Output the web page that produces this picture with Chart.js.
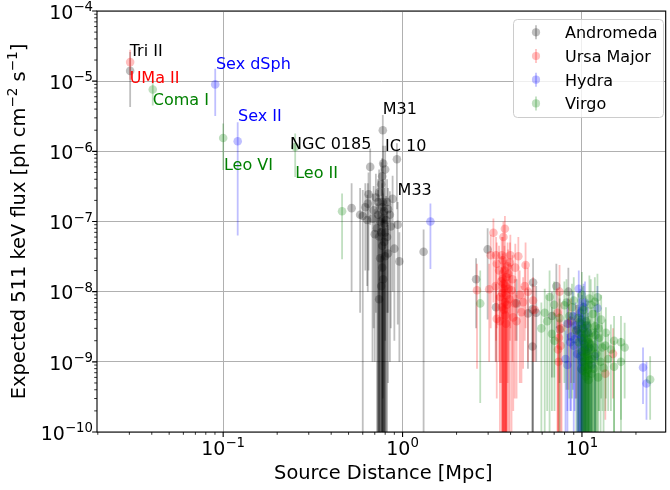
<!DOCTYPE html>
<html>
<head>
<meta charset="utf-8">
<script src="https://cdn.jsdelivr.net/npm/chart.js@4.4.0/dist/chart.umd.min.js"></script>
<style>
  body { margin: 0; background: #fff; }
  canvas { display: block; }
</style>
</head>
<body>
<canvas id="myChart" width="670" height="490"></canvas>
<script>

// each source: [distance Mpc, flux, lower end of bar, upper end of bar]
var andromeda = [
  [0.0303, 1.4e-5, 4.3e-6, 2.6e-5],
  [0.776, 2.0e-6, 3e-10, 3.3e-6],
  [0.93, 7.7e-7, 1.5e-7, 1.3e-6],
  [0.66, 6.0e-7, 9e-8, 1.1e-6],
  [0.80, 5.5e-7, 2e-9, 1.2e-6],
  [0.78, 6.7e-7, 5e-8, 1.2e-6],
  [0.77, 4.4e-7, 1e-11, 8e-7],
  [0.76, 3.4e-7, 2e-8, 7e-7],
  [0.74, 2.6e-7, 1e-11, 5.5e-7],
  [0.646, 2.45e-7, 2e-8, 5e-7],
  [0.71, 2.2e-7, 5e-9, 4.8e-7],
  [0.88, 2.1e-7, 1e-8, 4.5e-7],
  [0.776, 1.9e-7, 1e-11, 4e-7],
  [0.82, 1.9e-7, 5e-9, 4e-7],
  [0.73, 1.9e-7, 1e-11, 4e-7],
  [0.64, 1.8e-7, 1e-8, 3.5e-7],
  [0.62, 1.6e-7, 2e-8, 3.5e-7],
  [0.77, 1.6e-7, 1e-11, 3.5e-7],
  [0.52, 1.55e-7, 1e-8, 3.5e-7],
  [0.83, 1.5e-7, 5e-9, 3e-7],
  [0.69, 1.45e-7, 3e-9, 3.2e-7],
  [0.79, 1.4e-7, 1e-11, 3e-7],
  [0.73, 1.25e-7, 1e-11, 2.8e-7],
  [0.85, 1.25e-7, 1e-9, 2.7e-7],
  [0.58, 1.25e-7, 5e-9, 3e-7],
  [0.60, 1.2e-7, 1e-11, 2.8e-7],
  [0.68, 1.1e-7, 1e-9, 2.5e-7],
  [0.78, 1.1e-7, 1e-11, 2.5e-7],
  [0.635, 1.05e-7, 1.2e-8, 2.4e-7],
  [0.81, 1.05e-7, 1e-11, 2.3e-7],
  [0.75, 1.0e-7, 1e-11, 2.2e-7],
  [0.79, 9.3e-8, 1e-11, 2e-7],
  [0.94, 9e-8, 3.4e-9, 1.9e-7],
  [0.86, 8.5e-8, 3e-9, 1.8e-7],
  [0.72, 8e-8, 1e-11, 1.8e-7],
  [0.76, 7e-8, 1e-11, 1.6e-7],
  [0.80, 7e-8, 1e-11, 1.5e-7],
  [0.70, 6.6e-8, 1e-9, 1.5e-7],
  [0.74, 6.1e-8, 1e-11, 1.4e-7],
  [0.82, 6e-8, 1e-10, 1.4e-7],
  [0.79, 5.1e-8, 1e-11, 1.2e-7],
  [0.77, 4.5e-8, 1e-11, 1.1e-7],
  [0.90, 4.1e-8, 2e-9, 1e-7],
  [0.83, 3.5e-8, 5e-10, 9e-8],
  [0.80, 3.2e-8, 1e-11, 8e-8],
  [0.75, 3e-8, 1e-11, 8e-8],
  [0.96, 2.7e-8, 1e-9, 7e-8],
  [0.77, 2.2e-8, 1e-11, 6e-8],
  [0.78, 1.5e-8, 1e-11, 4e-8],
  [0.76, 1.2e-8, 1e-11, 3.2e-8],
  [0.74, 7.8e-9, 1e-11, 2e-8],
  [1.31, 3.7e-8, 1e-11, 7.7e-8],
  [2.98, 4.0e-8, 4e-9, 8e-8],
  [2.57, 1.5e-8, 3e-9, 3e-8],
  [3.32, 6.0e-9, 1e-9, 1.3e-8],
  [4.32, 6.8e-9, 2e-9, 1.5e-8],
  [5.0, 4.9e-9, 8e-10, 1.1e-8],
  [5.34, 1.35e-8, 1e-11, 3e-8],
  [5.3, 5.6e-9, 1e-11, 1.3e-8],
  [5.3, 1.65e-9, 1e-11, 5e-9],
  [5.56, 5e-9, 1e-9, 1.2e-8],
  [6.8, 4.5e-9, 6e-10, 1e-8],
  [7.2, 1.2e-8, 3e-9, 2.5e-8],
  [7.5, 2.9e-9, 5e-10, 8e-9],
  [8.4, 1.0e-8, 2e-9, 2.2e-8]
];

var ursaMajor = [
  [0.0303, 1.87e-5, 1.05e-5, 2.8e-5],
  [3.72, 7.9e-8, 5e-9, 1.2e-7],
  [3.21, 6.9e-8, 7e-9, 1.1e-7],
  [3.65, 6.0e-8, 4e-9, 1e-7],
  [3.32, 3.3e-8, 2e-9, 6e-8],
  [3.57, 3.3e-8, 1e-9, 6e-8],
  [3.99, 3.3e-8, 3e-9, 6.5e-8],
  [3.1, 3.3e-8, 3e-9, 6.5e-8],
  [4.42, 3.2e-8, 5e-9, 6e-8],
  [3.62, 2.8e-8, 1e-11, 6e-8],
  [3.97, 2.6e-8, 2e-9, 5e-8],
  [3.35, 2.5e-8, 3e-9, 5e-8],
  [4.85, 2.4e-8, 3e-9, 5e-8],
  [3.85, 2.3e-8, 5e-10, 5e-8],
  [4.25, 2.2e-8, 2e-9, 4.8e-8],
  [3.70, 2.0e-8, 1e-11, 4.5e-8],
  [3.45, 2.0e-8, 1e-9, 4.5e-8],
  [3.88, 1.8e-8, 1e-9, 4e-8],
  [3.78, 1.6e-8, 1e-11, 3.6e-8],
  [3.62, 1.54e-8, 1e-11, 3.5e-8],
  [4.1, 1.5e-8, 1e-9, 3.3e-8],
  [3.55, 1.4e-8, 5e-10, 3.2e-8],
  [3.65, 1.3e-8, 1e-11, 3e-8],
  [3.75, 1.2e-8, 1e-11, 2.8e-8],
  [4.80, 1.2e-8, 2e-9, 2.6e-8],
  [3.3, 1.2e-8, 1e-9, 2.7e-8],
  [3.66, 1.1e-8, 1e-11, 2.5e-8],
  [3.9, 1.1e-8, 1e-10, 2.5e-8],
  [3.04, 1.08e-8, 1e-9, 2.5e-8],
  [2.60, 1.05e-8, 8e-10, 2.5e-8],
  [4.05, 1.05e-8, 1e-10, 2.4e-8],
  [5.0, 1.0e-8, 1e-9, 2.2e-8],
  [3.60, 9.5e-9, 1e-10, 2.2e-8],
  [4.5, 9e-9, 5e-10, 2e-8],
  [3.80, 8.9e-9, 1e-11, 2e-8],
  [3.49, 8.4e-9, 5e-10, 2e-8],
  [3.95, 7.8e-9, 1e-11, 1.8e-8],
  [3.72, 7.1e-9, 1e-11, 1.7e-8],
  [4.70, 7.1e-9, 8e-10, 1.6e-8],
  [4.22, 6.8e-9, 3e-10, 1.5e-8],
  [3.82, 6.5e-9, 1e-11, 1.5e-8],
  [3.58, 6e-9, 1e-11, 1.4e-8],
  [3.68, 5.5e-9, 1e-11, 1.3e-8],
  [4.60, 5.1e-9, 5e-10, 1.2e-8],
  [3.74, 4.6e-9, 1e-11, 1.1e-8],
  [4.14, 4.3e-9, 2e-10, 1e-8],
  [3.35, 4.1e-9, 3e-10, 9e-9],
  [3.49, 3.8e-9, 1e-11, 9e-9],
  [4.32, 3.8e-9, 3e-10, 9e-9],
  [3.77, 3.5e-9, 1e-11, 8e-9],
  [5.34, 7.5e-9, 1e-9, 1.6e-8],
  [5.45, 5.5e-9, 1e-9, 1.2e-8],
  [7.5, 1.0e-8, 2e-9, 2.4e-8],
  [7.3, 5e-9, 1e-11, 1.1e-8],
  [7.7, 3e-9, 1e-11, 7e-9],
  [7.45, 2.2e-9, 1e-11, 5e-9],
  [7.6, 1.7e-9, 1e-11, 4e-9],
  [7.35, 1.5e-9, 1e-11, 4e-9],
  [7.4, 1.0e-9, 1e-11, 2.5e-9],
  [8.7, 3.8e-9, 5e-10, 8e-9],
  [8.4, 3.5e-9, 4e-10, 8e-9],
  [9.3, 2.8e-9, 3e-10, 6.5e-9],
  [14.9, 1.3e-9, 3e-10, 3e-9],
  [13.5, 6.8e-10, 1.5e-10, 1.5e-9]
];

var hydra = [
  [0.0903, 9.0e-6, 3.2e-6, 1.5e-5],
  [0.1205, 1.39e-6, 6.3e-8, 2.6e-6],
  [1.43, 1.0e-7, 2.1e-8, 1.8e-7],
  [9.6, 1.1e-8, 1e-11, 2e-8],
  [12.2, 5.8e-9, 1e-9, 1.2e-8],
  [10.4, 7e-9, 5e-10, 1.4e-8],
  [10.2, 6e-9, 1e-11, 1.3e-8],
  [9.8, 5e-9, 1e-11, 1.1e-8],
  [8.9, 4.5e-9, 4e-10, 1e-8],
  [10.0, 4e-9, 1e-11, 9e-9],
  [9.7, 3.7e-9, 1e-11, 8e-9],
  [8.3, 3.5e-9, 2e-10, 8e-9],
  [9.2, 3.3e-9, 3e-10, 7e-9],
  [10.5, 3.3e-9, 1e-11, 7.5e-9],
  [10.1, 3e-9, 1e-11, 7e-9],
  [9.5, 2.9e-9, 1e-11, 6.5e-9],
  [10.8, 2.6e-9, 1e-10, 6e-9],
  [9.6, 2.5e-9, 1e-11, 6e-9],
  [8.7, 2.3e-9, 2e-10, 5e-9],
  [9.9, 2.2e-9, 1e-11, 5e-9],
  [9.1, 2.1e-9, 2e-10, 5e-9],
  [10.1, 2.0e-9, 1e-11, 4.5e-9],
  [8.6, 1.9e-9, 2e-10, 4.5e-9],
  [10.3, 1.8e-9, 1e-11, 4.2e-9],
  [9.0, 1.7e-9, 1e-10, 4e-9],
  [11.0, 1.6e-9, 1e-11, 3.8e-9],
  [10.4, 1.5e-9, 1e-11, 3.5e-9],
  [10.6, 1.4e-9, 1e-11, 3.5e-9],
  [9.4, 1.3e-9, 1e-10, 3e-9],
  [9.8, 1.2e-9, 1e-11, 2.8e-9],
  [11.8, 1.2e-9, 1e-10, 3e-9],
  [8.1, 1.1e-9, 1e-10, 2.8e-9],
  [10.0, 1.0e-9, 1e-11, 2.5e-9],
  [8.3, 9e-10, 1e-10, 2.5e-9],
  [11.3, 9e-10, 1e-11, 2e-9],
  [9.9, 8e-10, 1e-11, 2e-9],
  [21.9, 8.3e-10, 2.5e-10, 1.6e-9],
  [22.9, 4.9e-10, 1.5e-10, 1e-9]
];

var virgo = [
  [0.0405, 7.6e-6, 4.5e-6, 1.05e-5],
  [0.100, 1.55e-6, 5.4e-7, 2.5e-6],
  [0.252, 1.15e-6, 4.3e-7, 1.8e-6],
  [0.46, 1.4e-7, 2.9e-8, 2.5e-7],
  [2.71, 6.8e-9, 2.6e-10, 2e-8],
  [5.94, 3.0e-9, 1e-11, 7e-9],
  [6.2, 5e-9, 1e-10, 1.1e-8],
  [6.4, 3.8e-9, 2e-10, 9e-9],
  [6.6, 8.4e-9, 1e-10, 2e-8],
  [6.8, 2.5e-9, 2e-10, 6e-9],
  [7.0, 6.5e-9, 6e-10, 1.4e-8],
  [7.03, 2.0e-9, 2e-10, 5e-9],
  [7.5, 4.2e-9, 1e-10, 1e-8],
  [7.98, 6.4e-9, 5e-10, 1.4e-8],
  [8.2, 7e-9, 4e-10, 1.5e-8],
  [8.5, 4.5e-9, 3e-10, 1e-8],
  [8.8, 6e-9, 3e-10, 1.3e-8],
  [9.0, 7.5e-9, 5e-10, 1.6e-8],
  [9.3, 2.8e-9, 1e-10, 6.5e-9],
  [9.5, 4.2e-9, 1e-10, 9.5e-9],
  [9.6, 1.9e-9, 1e-11, 4.5e-9],
  [9.8, 3.5e-9, 1e-11, 8e-9],
  [9.9, 2.6e-9, 1e-11, 6e-9],
  [10.0, 9e-9, 1e-10, 1.9e-8],
  [10.0, 1.4e-9, 1e-11, 3.3e-9],
  [10.1, 7.5e-10, 1e-11, 1.8e-9],
  [10.2, 5.5e-9, 1e-10, 1.2e-8],
  [10.2, 3.0e-9, 1e-11, 7e-9],
  [10.2, 1.15e-9, 1e-11, 2.7e-9],
  [10.3, 2.2e-9, 1e-11, 5e-9],
  [10.3, 1.0e-9, 1e-11, 2.4e-9],
  [10.4, 1.6e-9, 1e-11, 3.8e-9],
  [10.4, 8.5e-10, 1e-11, 2e-9],
  [10.5, 3.8e-9, 1e-11, 8.5e-9],
  [10.5, 2.5e-9, 1e-11, 6e-9],
  [10.5, 6.2e-10, 1e-11, 1.5e-9],
  [10.6, 1.3e-9, 1e-11, 3e-9],
  [10.6, 7e-10, 1e-11, 1.7e-9],
  [10.7, 3.3e-9, 1e-11, 7.5e-9],
  [10.7, 1.2e-9, 1e-11, 3e-9],
  [10.8, 2.1e-9, 1e-11, 5e-9],
  [10.8, 7.8e-10, 1e-11, 1.9e-9],
  [10.9, 1.9e-9, 1e-11, 4.5e-9],
  [10.9, 9e-10, 1e-11, 2.2e-9],
  [10.9, 5.5e-10, 1e-11, 1.3e-9],
  [11.0, 8e-9, 1e-10, 1.7e-8],
  [11.0, 1.05e-9, 1e-11, 2.5e-9],
  [11.1, 1.8e-9, 1e-11, 4e-9],
  [11.2, 6.5e-9, 1e-10, 1.5e-8],
  [11.2, 1.5e-9, 1e-11, 3.5e-9],
  [11.3, 2.6e-9, 1e-11, 6e-9],
  [11.3, 6.8e-10, 1e-11, 1.6e-9],
  [11.4, 1.1e-9, 1e-10, 2.6e-9],
  [11.5, 4.8e-9, 1e-10, 1e-8],
  [11.6, 8e-10, 1e-10, 2e-9],
  [11.7, 1.6e-9, 1e-10, 3.8e-9],
  [11.8, 7.2e-9, 1e-11, 1.6e-8],
  [11.9, 3.2e-9, 1e-10, 7e-9],
  [11.9, 2.4e-9, 1e-10, 5.5e-9],
  [12.0, 1.3e-9, 1e-10, 3e-9],
  [12.2, 8.3e-9, 1e-10, 1.8e-8],
  [12.3, 6e-10, 1e-10, 1.4e-9],
  [12.4, 3.0e-9, 2e-10, 7e-9],
  [12.5, 2.2e-9, 2e-10, 5e-9],
  [12.7, 1.0e-9, 1e-10, 2.4e-9],
  [12.8, 4e-9, 3e-10, 9e-9],
  [13.0, 1.6e-9, 2e-10, 3.6e-9],
  [13.2, 8.2e-10, 1e-10, 1.9e-9],
  [13.5, 1.7e-9, 2e-10, 4e-9],
  [13.6, 2.6e-9, 3e-10, 6e-9],
  [14.0, 1.1e-9, 2e-10, 2.5e-9],
  [14.5, 1.5e-9, 2e-10, 3.4e-9],
  [15.1, 2.0e-9, 1e-10, 4.5e-9],
  [15.1, 8.5e-10, 1e-10, 2e-9],
  [16.5, 1.9e-9, 1e-10, 4.5e-9],
  [16.5, 1.0e-9, 1.5e-10, 2.2e-9],
  [17.3, 1.6e-9, 3e-10, 3.6e-9],
  [24.0, 5.6e-10, 1.5e-10, 1.2e-9]
];

var groupNames = ["Andromeda", "Ursa Major", "Hydra", "Virgo"];
var groupColors = ["0,0,0", "255,0,0", "0,0,255", "0,128,0"];

var xTicks = [0.1, 1, 10];
var yTicks = [1e-10, 1e-9, 1e-8, 1e-7, 1e-6, 1e-5, 1e-4];

// labelled sources: [text, distance, flux, colour]
var names = [
  ["Tri II", 0.0301, 2.29e-5, "#000000"],
  ["UMa II", 0.0301, 9.4e-6, "#ff0000"],
  ["Coma I", 0.0405, 4.57e-6, "#008000"],
  ["Sex dSph", 0.0911, 1.49e-5, "#0000ff"],
  ["Sex II", 0.121, 2.7e-6, "#0000ff"],
  ["Leo VI", 0.101, 5.42e-7, "#008000"],
  ["NGC 0185", 0.236, 1.08e-6, "#000000"],
  ["Leo II", 0.252, 4.17e-7, "#008000"],
  ["M31", 0.775, 3.4e-6, "#000000"],
  ["IC 10", 0.798, 1.01e-6, "#000000"],
  ["M33", 0.938, 2.39e-7, "#000000"]
];

var FONT = "'DejaVu Sans', sans-serif";
var ALPHA = 0.25;
var TICK_PX = 19, SUP_PX = 13.3;

function rgba(c) { return "rgba(" + c + "," + ALPHA + ")"; }

// "10" with a raised exponent, like matplotlib's log labels
function drawPow(ctx, exp, x, y, align) {
  var base = "10";
  var sup = (exp < 0 ? "\u2212" : "") + Math.abs(exp);
  ctx.font = TICK_PX + "px " + FONT;
  var w1 = ctx.measureText(base).width;
  ctx.font = SUP_PX + "px " + FONT;
  var w2 = ctx.measureText(sup).width;
  var x0 = align === "right" ? x - w1 - w2 : x - (w1 + w2) / 2;
  ctx.textAlign = "left";
  ctx.textBaseline = "alphabetic";
  ctx.font = TICK_PX + "px " + FONT;
  ctx.fillText(base, x0, y);
  ctx.font = SUP_PX + "px " + FONT;
  ctx.fillText(sup, x0 + w1, y - 7.5);
}

var errorBars = {
  id: "errorBars",
  beforeDatasetDraw: function(chart, args) {
    var ds = chart.data.datasets[args.index];
    var a = chart.chartArea, ctx = chart.ctx;
    var sx = chart.scales.x, sy = chart.scales.y;
    ctx.save();
    ctx.beginPath();
    ctx.rect(a.left, a.top, a.right - a.left, a.bottom - a.top);
    ctx.clip();
    ctx.strokeStyle = ds.backgroundColor;
    ctx.lineWidth = 1.8;
    ds.bars.forEach(function(p) {
      var x = sx.getPixelForValue(p[0]);
      ctx.beginPath();
      ctx.moveTo(x, sy.getPixelForValue(p[3]));
      ctx.lineTo(x, Math.min(sy.getPixelForValue(p[2]), a.bottom + 5));
      ctx.stroke();
    });
    ctx.restore();
  }
};

var decor = {
  id: "decor",
  afterDatasetsDraw: function(chart) {
    var ctx = chart.ctx, a = chart.chartArea;
    var sx = chart.scales.x, sy = chart.scales.y;
    ctx.save();

    // spines
    ctx.strokeStyle = "#000";
    ctx.lineWidth = 1.1;
    ctx.beginPath();
    ctx.moveTo(a.left, a.top); ctx.lineTo(a.left, a.bottom);
    ctx.lineTo(a.right, a.bottom); ctx.lineTo(a.right, a.top);
    ctx.closePath();
    ctx.stroke();

    // major and minor ticks
    ctx.beginPath();
    xTicks.forEach(function(v) {
      var x = sx.getPixelForValue(v);
      ctx.moveTo(x, a.bottom); ctx.lineTo(x, a.bottom + 4.9);
    });
    yTicks.forEach(function(v) {
      var y = sy.getPixelForValue(v);
      ctx.moveTo(a.left, y); ctx.lineTo(a.left - 4.9, y);
    });
    ctx.stroke();
    ctx.lineWidth = 0.8;
    ctx.beginPath();
    [0.01, 0.1, 1, 10].forEach(function(d) {
      for (var k = 2; k <= 9; k++) {
        var v = d * k;
        if (v < sx.min || v > sx.max) continue;
        var x = sx.getPixelForValue(v);
        ctx.moveTo(x, a.bottom); ctx.lineTo(x, a.bottom + 2.8);
      }
    });
    yTicks.slice(0, -1).forEach(function(d) {
      for (var k = 2; k <= 9; k++) {
        var y = sy.getPixelForValue(d * k);
        ctx.moveTo(a.left, y); ctx.lineTo(a.left - 2.8, y);
      }
    });
    ctx.stroke();

    // tick labels
    ctx.fillStyle = "#000";
    xTicks.forEach(function(v) {
      drawPow(ctx, Math.round(Math.log10(v)), sx.getPixelForValue(v), a.bottom + 22.5, "center");
    });
    yTicks.forEach(function(v) {
      drawPow(ctx, Math.round(Math.log10(v)), a.left - 4, sy.getPixelForValue(v) + 7.7, "right");
    });

    // axis titles
    ctx.font = "19.4px " + FONT;
    ctx.textAlign = "center";
    ctx.textBaseline = "alphabetic";
    ctx.fillText("Source Distance [Mpc]", (a.left + a.right) / 2 + 2, 479);

    var parts = [
      ["Expected 511 keV flux [ph cm", false],
      ["\u22122", true],
      [" s", false],
      ["\u22121", true],
      ["]", false]
    ];
    var widths = parts.map(function(p) {
      ctx.font = (p[1] ? "13.6px " : "19.4px ") + FONT;
      return ctx.measureText(p[0]).width;
    });
    var total = widths.reduce(function(s, w) { return s + w; }, 0);
    ctx.save();
    ctx.translate(25, (a.top + a.bottom) / 2);
    ctx.rotate(-Math.PI / 2);
    ctx.textAlign = "left";
    var cx = -total / 2;
    parts.forEach(function(p, i) {
      ctx.font = (p[1] ? "13.6px " : "19.4px ") + FONT;
      ctx.fillText(p[0], cx, p[1] ? -7.6 : 0);
      cx += widths[i];
    });
    ctx.restore();

    // source names
    ctx.font = "16px " + FONT;
    ctx.textAlign = "left";
    names.forEach(function(n) {
      ctx.fillStyle = n[3];
      ctx.fillText(n[0], sx.getPixelForValue(n[1]), sy.getPixelForValue(n[2]));
    });

    // legend
    var lx = 513.5, ly = 19.5, lw = 150, lh = 98;
    ctx.beginPath();
    ctx.roundRect(lx, ly, lw, lh, 4);
    ctx.fillStyle = "rgba(255,255,255,0.8)";
    ctx.fill();
    ctx.strokeStyle = "#cccccc";
    ctx.lineWidth = 1;
    ctx.stroke();
    groupNames.forEach(function(name, i) {
      var y = 32.3 + i * 23.7;
      ctx.strokeStyle = rgba(groupColors[i]);
      ctx.lineWidth = 1.8;
      ctx.beginPath();
      ctx.moveTo(536, y - 7); ctx.lineTo(536, y + 7);
      ctx.stroke();
      ctx.fillStyle = rgba(groupColors[i]);
      ctx.beginPath();
      ctx.arc(536, y, 4.1, 0, Math.PI * 2);
      ctx.fill();
      ctx.fillStyle = "#000";
      ctx.font = "16px " + FONT;
      ctx.fillText(name, 565, y + 5.8);
    });

    ctx.restore();
  }
};

var groups = [andromeda, ursaMajor, hydra, virgo];

new Chart("myChart", {
  type: "scatter",
  data: {
    datasets: groups.map(function(g, i) {
      return {
        label: groupNames[i],
        data: g.map(function(p) { return { x: p[0], y: p[1] }; }),
        bars: g,
        order: 3 - i,
        backgroundColor: rgba(groupColors[i]),
        pointRadius: 4.3,
        pointBorderWidth: 0,
        pointHoverRadius: 4.3
      };
    })
  },
  options: {
    responsive: false,
    animation: false,
    events: [],
    layout: { padding: { top: 11, right: 0, left: 0, bottom: 0 } },
    plugins: {
      legend: { display: false },
      tooltip: { enabled: false }
    },
    scales: {
      x: {
        type: "logarithmic",
        min: 0.0198,
        max: 29.3,
        afterBuildTicks: function(s) { s.ticks = xTicks.map(function(v) { return { value: v }; }); },
        afterFit: function(s) { s.height = 58; },
        ticks: { display: false },
        border: { display: false },
        grid: { color: "#b0b0b0", lineWidth: 1, drawTicks: false }
      },
      y: {
        type: "logarithmic",
        min: 1e-10,
        max: 1e-4,
        afterBuildTicks: function(s) { s.ticks = yTicks.map(function(v) { return { value: v }; }); },
        afterFit: function(s) { s.width = 97; },
        ticks: { display: false },
        border: { display: false },
        grid: { color: "#b0b0b0", lineWidth: 1, drawTicks: false }
      }
    }
  },
  plugins: [errorBars, decor]
});

</script>
</body>
</html>
